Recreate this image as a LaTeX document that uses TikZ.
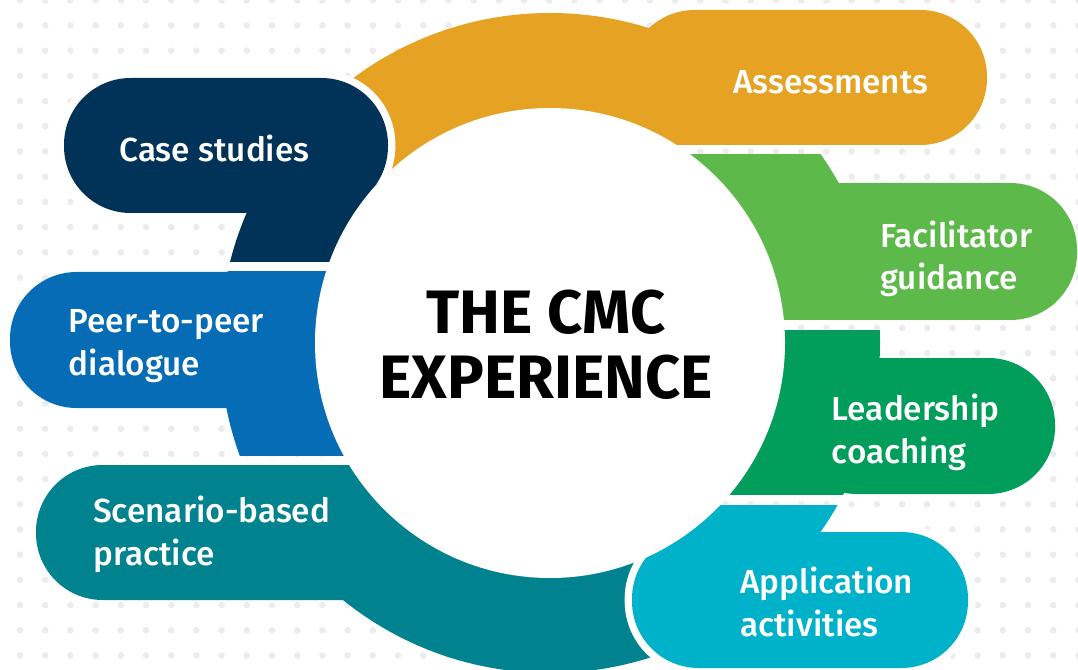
\documentclass[tikz,border=0pt]{standalone}
\usepackage{fontspec}
\setmainfont{Fira Sans}
\newfontfamily\labelfont{Fira Sans Medium}
\definecolor{cmcnavy}{RGB}{1,51,88}
\definecolor{cmcorange}{RGB}{229,162,35}
\definecolor{cmcblue}{RGB}{5,108,181}
\definecolor{cmcteal}{RGB}{0,130,143}
\definecolor{cmccyan}{RGB}{0,178,201}
\definecolor{cmclime}{RGB}{92,185,74}
\definecolor{cmcgreen}{RGB}{0,157,91}
\definecolor{dotgrey}{RGB}{236,236,236}

\begin{document}
\begin{tikzpicture}[x=0.75pt,y=0.75pt,yscale=-1,xscale=1,
	pill/.style={rounded corners=50pt},
	halo/.style={preaction={draw=white,line width=11pt}},
	lbl/.style={anchor=base west,align=left,text=white,inner sep=0pt,font=\labelfont\fontsize{25}{32}\selectfont},
	title/.style={anchor=base,align=center,inner sep=0pt,font=\bfseries\fontsize{46}{48.75}\selectfont}]
			% background with dot grid
			\fill[white] (0,0) rectangle (1078,670);
			\useasboundingbox (0,0) rectangle (1078,670);
			\foreach \i in {0,...,42}
				\foreach \j in {0,...,26}
					\fill[dotgrey] (20+25.2*\i,0.3+25.2*\j) circle (3.3);
			\coordinate (ctr) at (550,343);
			% Assessments
			\begin{scope}
				\clip (ctr) -- (118,-74) -- (1200,-74) -- (1200,145) -- (550,145) -- cycle;
				\fill[cmcorange] (ctr) circle (330);
			\end{scope}
			\fill[cmcorange,pill] (628,10) rectangle (987,145);
			% Case studies
			\fill[cmcnavy,pill,halo] (64,78) rectangle (388,213);
			\begin{scope}
				\clip (0,185) rectangle (550,262);
				\fill[cmcnavy] (ctr) circle (330);
			\end{scope}
			% Peer-to-peer dialogue
			\begin{scope}
				\clip (0,272) rectangle (550,455);
				\fill[cmcblue] (ctr) circle (330);
			\end{scope}
			\fill[cmcblue,pill] (10,272) rectangle (420,408);
			% Scenario-based practice
			\begin{scope}
				\clip (0,465) -- (615,465) -- (738,700) -- (0,700) -- cycle;
				\fill[cmcteal] (ctr) circle (330);
			\end{scope}
			\fill[cmcteal,pill] (36,465) rectangle (420,600);
			% Application activities
			\fill[cmccyan,pill,halo] (632,532) rectangle (968,668);
			\begin{scope}
				\clip (665,505) rectangle (900,560);
				\fill[cmccyan] (ctr) circle (330);
			\end{scope}
			% Leadership coaching
			\begin{scope}
				\clip (550,330) rectangle (1100,494);
				\fill[cmcgreen] (ctr) circle (330);
			\end{scope}
			\fill[cmcgreen,pill] (790,358) rectangle (1055,494);
			% Facilitator guidance
			\begin{scope}
				\clip (550,155) rectangle (1100,320);
				\fill[cmclime] (ctr) circle (330);
			\end{scope}
			\fill[cmclime,pill] (775,183) rectangle (1077,320);
			% centre
			\fill[white] (ctr) circle (235);
			\node[title] (cmc) at (546,398) {THE CMC\\EXPERIENCE};
			\node[lbl,anchor=base] (cases) at (214.5,162) {Case studies};
			\node[lbl,anchor=base] (assess) at (831,93.5) {Assessments};
			\node[lbl] (facil) at (880,290) {Facilitator\\guidance};
			\node[lbl] (lead) at (831.5,463.3) {Leadership\\coaching};
			\node[lbl] (appl) at (740,636) {Application\\activities};
			\node[lbl] (peer) at (68.5,375) {Peer-to-peer\\dialogue};
			\node[lbl] (scen) at (93,565) {Scenario-based\\practice};
\end{tikzpicture}
\end{document}
